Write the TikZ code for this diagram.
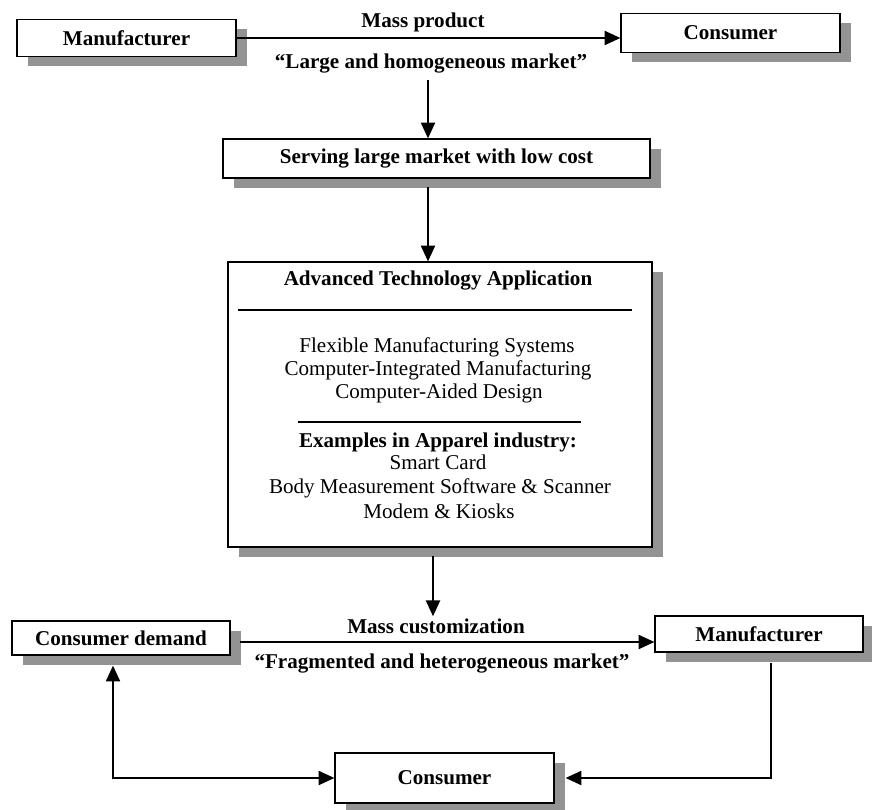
\documentclass[tikz,border=0pt]{standalone}
\usepackage{fontspec}
\setmainfont{Liberation Serif}
\usetikzlibrary{arrows.meta, shadows}
\tikzset{
    >={Triangle[length=9pt,width=8pt]},
    flowbox/.style={draw, fill=white, line width=0.7pt, inner sep=0pt,
        font=\fontsize{12}{13}\selectfont\bfseries,
        drop shadow={shadow xshift=0.22cm, shadow yshift=-0.2cm, fill=gray!85, opacity=1}},
    flowlabel/.style={font=\fontsize{12}{13}\selectfont\bfseries, inner sep=1pt, anchor=base},
    flowtext/.style={font=\fontsize{12}{13}\selectfont, inner sep=0pt, anchor=base},
    flow/.style={->, line width=1.1pt}
}

\begin{document}
\begin{tikzpicture}[x=0.02cm, y=-0.02cm]

    \useasboundingbox (0,0) rectangle (872,810);

    % mass production
    \node[flowbox, minimum width=4.38cm, minimum height=0.74cm] (mfrtop) at (126.5,38) {Manufacturer};
    \node[flowbox, minimum width=4.38cm, minimum height=0.78cm] (constop) at (730.5,33) {Consumer};
    \draw[flow] (mfrtop.east) -- (mfrtop.east -| constop.west);
    \node[flowlabel] (massprod) at (423,28) {Mass product};
    \node[flowlabel] (homog) at (431,69) {“Large and homogeneous market”};

    \coordinate (stem) at (428,80);
    \node[flowbox, minimum width=8.54cm, minimum height=0.78cm] (serving) at (436.5,158.5) {Serving large market with low cost};
    \draw[flow] (stem) -- (stem |- serving.north);

    % technology box
    \node[flowbox, minimum width=8.48cm, minimum height=5.7cm] (apptech) at (440,404.5) {};
    \draw[flow, shorten <=5pt] (stem |- serving.south) -- (stem |- apptech.north);

    \node[flowlabel, inner sep=0pt] (apptitle) at (438,286) {Advanced Technology Application};
    \draw[line width=1.1pt] (238,310) -- (632,310);
    \node[flowtext] (appfms) at (437,353) {Flexible Manufacturing Systems};
    \node[flowtext] (appcim) at (438,376) {Computer-Integrated Manufacturing};
    \node[flowtext] (appcad) at (439,399) {Computer-Aided Design};
    \draw[line width=1.1pt] (298,422) -- (581,422);
    \node[flowlabel, inner sep=0pt] (appex) at (438,448) {Examples in Apparel industry:};
    \node[flowtext] (appcard) at (438,470) {Smart Card};
    \node[flowtext] (appbody) at (440,494) {Body Measurement Software \& Scanner};
    \node[flowtext] (appkiosk) at (439,519) {Modem \& Kiosks};

    % mass customization
    \node[flowlabel] (masscust) at (436,633) {Mass customization};
    \node[flowlabel] (hetero) at (442,668) {“Fragmented and heterogeneous market”};
    \coordinate (stemlow) at (433,0);
    \draw[flow, shorten <=5pt] (stemlow |- apptech.south) -- (stemlow |- masscust.north);

    \node[flowbox, minimum width=4.36cm, minimum height=0.68cm] (demand) at (121,638) {Consumer demand};
    \node[flowbox, minimum width=4.16cm, minimum height=0.72cm] (mfrbot) at (759,634) {Manufacturer};
    \node[flowbox, minimum width=4.38cm, minimum height=1.0cm] (consbot) at (444.5,778) {Consumer};

    \coordinate (custline) at (240,642);
    \draw[flow] (custline) -- (custline -| mfrbot.west);

    \coordinate (mfrdrop) at (771,0);
    \coordinate (demdrop) at (113,0);
    \draw[flow, shorten <=0.2cm, shorten >=0.22cm] (mfrdrop |- mfrbot.south) |- (consbot.east);
    \draw[<->, line width=1.1pt, shorten <=0.2cm] (demdrop |- demand.south) |- (consbot.west);

\end{tikzpicture}
\end{document}
